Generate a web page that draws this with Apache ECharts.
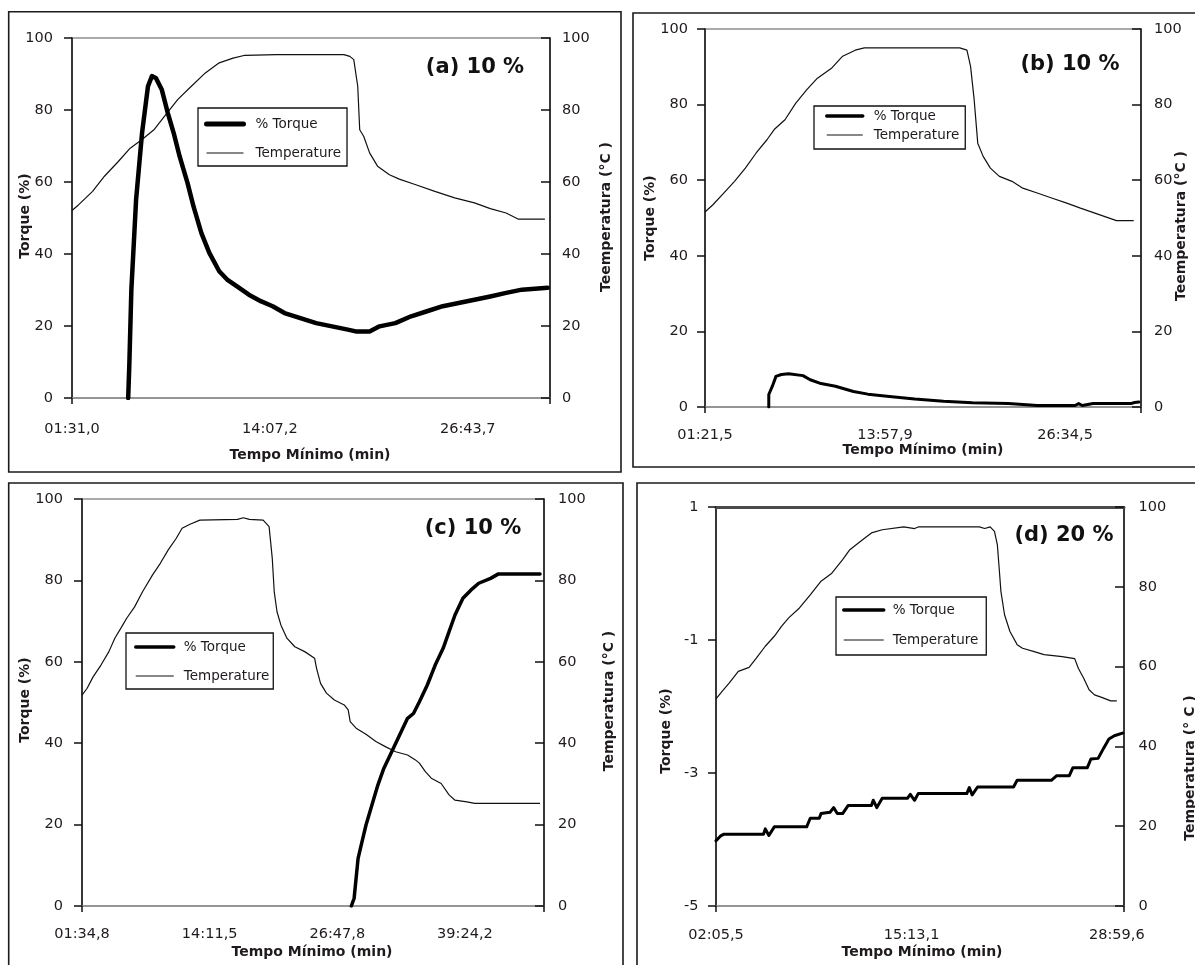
<!DOCTYPE html>
<html>
<head>
<meta charset="utf-8">
<title>Torque e temperatura</title>
<script src="https://cdn.jsdelivr.net/npm/echarts@6/dist/echarts.min.js"></script>
<style>
  html, body { margin: 0; padding: 0; background: #fff; }
  #chart { width: 1195px; height: 965px; }
</style>
</head>
<body>
<div id="chart"></div>
<script>
// Time-axis tick labels (mm:ss,d) for each panel
const ticksA = ['01:31,0', '14:07,2', '26:43,7'];
const ticksB = ['01:21,5', '13:57,9', '26:34,5'];
const ticksC = ['01:34,8', '14:11,5', '26:47,8', '39:24,2'];
const ticksD = ['02:05,5', '15:13,1', '28:59,6'];

// Left-axis ticks of panel (d)
const torqueTicksD = [-5, -3, -1, 1];

// Series: [elapsed seconds, value]
const torqueA = [[305.8,0],[310.3,9.7],[317.9,30.1],[336.0,55.1],[358.7,73.6],[381.4,86.6],[396.5,89.4],[411.7,88.9],[434.4,85.6],[457.0,79.2],[479.7,73.6],[502.4,67.1],[532.7,59.7],[555.4,53.2],[585.6,45.8],[615.9,40.3],[653.7,35.2],[683.9,32.9],[721.7,31.0],[767.1,28.7],[812.5,26.9],[857.9,25.5],[903.3,23.6],[963.8,22.2],[1024.3,20.8],[1084.8,19.9],[1145.3,19.0],[1175.5,18.5],[1228.5,18.5],[1266.3,19.9],[1326.8,20.8],[1387.3,22.7],[1447.8,24.1],[1508.3,25.5],[1568.8,26.4],[1629.3,27.3],[1689.8,28.2],[1750.3,29.2],[1810.8,30.1],[1909.2,30.6]];
const tempA = [[91.0,52.1],[116.7,53.7],[169.7,57.4],[215.0,61.6],[268.0,65.7],[313.4,69.4],[358.7,71.8],[404.1,74.5],[449.5,78.7],[494.9,82.9],[540.2,86.1],[600.7,90.3],[653.7,93.1],[706.6,94.4],[752.0,95.2],[873.0,95.4],[1130.2,95.4],[1152.9,94.9],[1168.0,94.0],[1183.1,86.6],[1190.7,74.5],[1205.8,72.7],[1228.5,68.1],[1258.8,64.4],[1304.2,62.0],[1341.9,60.8],[1402.4,59.3],[1478.0,57.4],[1553.7,55.6],[1629.3,54.2],[1689.8,52.6],[1750.3,51.4],[1795.7,49.7],[1898.5,49.7]];

const torqueB = [[349.5,0],[349.5,3.3],[364.6,5.5],[379.7,8.1],[402.5,8.6],[432.8,8.8],[493.3,8.3],[523.6,7.2],[569.0,6.2],[629.6,5.5],[705.3,4.1],[765.9,3.4],[856.7,2.8],[962.7,2.1],[1083.8,1.5],[1204.9,1.1],[1356.3,0.9],[1477.5,0.4],[1636.5,0.4],[1651.6,0.9],[1666.7,0.4],[1712.2,0.9],[1871.1,0.9],[1886.3,1.2],[1904.5,1.3]];
const tempB = [[81.5,51.6],[114.8,53.5],[160.2,56.6],[205.6,59.7],[251.0,63.2],[296.5,67.2],[341.9,70.7],[372.2,73.4],[417.6,76.0],[463.0,80.4],[508.5,83.9],[553.9,87.0],[614.5,89.7],[659.9,92.8],[712.9,94.4],[750.7,95.0],[826.4,95.0],[1152.0,95.0],[1182.2,94.4],[1197.4,90.1],[1212.5,81.3],[1227.6,69.8],[1250.4,66.3],[1280.7,63.2],[1318.5,61.0],[1371.5,59.7],[1416.9,57.9],[1477.5,56.6],[1538.1,55.3],[1598.6,54.0],[1659.2,52.6],[1719.7,51.3],[1765.1,50.3],[1810.5,49.3],[1883.0,49.3]];

const torqueC = [[1691.1,0],[1707.5,1.9],[1731.0,11.7],[1754.4,15.8],[1777.9,19.9],[1813.0,24.8],[1848.2,29.7],[1883.4,33.8],[1930.3,37.9],[1977.2,42.0],[2024.0,46.1],[2059.2,47.3],[2094.4,50.2],[2141.2,54.3],[2188.1,59.2],[2235.0,63.3],[2270.2,67.4],[2305.3,71.5],[2352.2,75.6],[2399.1,77.6],[2446.0,79.3],[2516.3,80.5],[2563.2,81.6],[2809.3,81.6]];
const tempC = [[94.8,51.8],[125.3,53.5],[160.4,56.3],[207.3,59.2],[254.2,62.5],[289.3,65.8],[324.5,68.2],[359.7,70.7],[406.6,73.5],[453.5,77.2],[512.1,81.3],[559.0,84.2],[605.8,87.5],[652.7,90.3],[687.9,92.8],[734.8,93.8],[793.4,94.8],[1016.1,95.0],[1051.2,95.4],[1086.4,95.0],[1168.4,94.8],[1203.6,93.2],[1222.4,85.4],[1234.1,77.2],[1250.5,72.3],[1273.9,69.0],[1309.1,65.8],[1356.0,63.7],[1414.6,62.5],[1473.2,60.9],[1484.9,58.4],[1508.4,54.7],[1543.5,52.3],[1590.4,50.6],[1649.0,49.4],[1672.4,48.2],[1684.2,45.3],[1719.3,43.7],[1777.9,42.2],[1836.5,40.4],[1895.1,39.1],[1953.7,37.9],[2024.0,37.1],[2070.9,35.9],[2094.4,35.1],[2129.5,33.0],[2164.7,31.4],[2223.3,30.1],[2270.2,27.3],[2305.3,26.0],[2375.7,25.6],[2422.5,25.2],[2809.3,25.2]];

const torqueD = [[125.5,-4.02],[142.9,-3.95],[157.4,-3.92],[316.8,-3.92],[324.0,-3.84],[338.5,-3.94],[360.2,-3.81],[490.6,-3.81],[505.1,-3.68],[541.3,-3.68],[548.6,-3.61],[584.8,-3.59],[599.3,-3.52],[613.8,-3.61],[635.5,-3.61],[657.3,-3.49],[751.4,-3.49],[758.7,-3.41],[773.2,-3.52],[794.9,-3.38],[896.3,-3.38],[907.9,-3.32],[925.3,-3.41],[939.8,-3.31],[1135.4,-3.31],[1145.6,-3.22],[1157.2,-3.33],[1178.9,-3.21],[1323.8,-3.21],[1338.3,-3.11],[1475.9,-3.11],[1497.7,-3.04],[1548.4,-3.04],[1562.9,-2.92],[1620.9,-2.92],[1635.4,-2.79],[1664.4,-2.78],[1686.1,-2.63],[1707.8,-2.49],[1729.6,-2.44],[1762.9,-2.40]];
const tempD = [[125.5,51.9],[150.1,53.8],[179.1,55.9],[215.3,58.8],[258.8,59.8],[287.8,62.1],[324.0,65.1],[360.2,67.6],[389.2,70.1],[418.2,72.2],[461.6,74.7],[505.1,78.0],[548.6,81.4],[592.0,83.4],[635.5,86.8],[664.5,89.3],[707.9,91.4],[751.4,93.5],[794.9,94.3],[881.8,95.0],[925.3,94.6],[939.8,95.0],[1186.1,95.0],[1207.8,94.6],[1229.6,95.0],[1246.9,93.9],[1258.5,90.6],[1265.8,84.7],[1273.0,78.8],[1287.5,73.0],[1309.3,68.8],[1338.3,65.5],[1360.0,64.6],[1403.5,63.8],[1446.9,63.0],[1519.4,62.5],[1570.1,62.0],[1584.6,59.6],[1606.3,57.1],[1628.1,54.2],[1649.8,52.9],[1678.8,52.3],[1715.0,51.4],[1739.6,51.4]];

// "mm:ss,d" <-> seconds
function toSec(s) {
  const parts = s.split(':');
  return parseInt(parts[0], 10) * 60 + parseFloat(parts[1].replace(',', '.'));
}
function fmtTime(v) {
  const m = Math.floor(v / 60 + 1e-9);
  const s = v - m * 60;
  let st = s.toFixed(1).replace('.', ',');
  if (s < 9.95) st = '0' + st;
  return String(m).padStart(2, '0') + ':' + st;
}

const FONT = 'DejaVu Sans';
const INK = '#1e1a1e';

const panels = [
  { tag: '(a) 10 %', ticks: ticksA, xMax: 1918, torque: torqueA, temp: tempA,
    grid: { left: 72, top: 38, width: 478, height: 360 }, torqueWidth: 4.5,
    leftY: { min: 0, max: 100, interval: 20 }, labelMarginX: 24, leftMargin: 19, rightMargin: 12,
    legend: { left: 198, top: 108, padding: [9, 6, 6, 6], itemWidth: 37, itemGap: 15, textPad: 7, iconWidth: 5 } },
  { tag: '(b) 10 %', ticks: ticksB, xMax: 1913.6, torque: torqueB, temp: tempB,
    grid: { left: 705, top: 29, width: 436, height: 378 }, torqueWidth: 3,
    leftY: { min: 0, max: 100, interval: 20 }, labelMarginX: 21, leftMargin: 17, rightMargin: 13,
    legend: { left: 814, top: 106, padding: [3, 6, 7, 11], itemWidth: 36, itemGap: 5, textPad: 6, iconWidth: 3.5 } },
  { tag: '(c) 10 %', ticks: ticksC, xMax: 2832.8, torque: torqueC, temp: tempC,
    grid: { left: 82, top: 499, width: 462, height: 407 }, torqueWidth: 3.5,
    leftY: { min: 0, max: 100, interval: 20 }, labelMarginX: 21, leftMargin: 19, rightMargin: 14,
    legend: { left: 126, top: 633, padding: [7, 4, 6, 8], itemWidth: 38, itemGap: 15, textPad: 5, iconWidth: 3.5 } },
  { tag: '(d) 20 %', ticks: ticksD, xMax: 1768.6, torque: torqueD, temp: tempD,
    grid: { left: 716, top: 507, width: 408, height: 399 }, torqueWidth: 3,
    leftY: { min: -5, max: 1, custom: torqueTicksD }, labelMarginX: 22, leftMargin: 17.5, rightMargin: 14.5,
    legend: { left: 836, top: 597, padding: [6, 8, 8, 6], itemWidth: 40, itemGap: 16, textPad: 4, iconWidth: 3.5 } }
];

// Axis titles and panel tags, placed per panel
const titles = [
  { xName: [310, 455], yName: [25, 216], tName: [606, 217], tText: 'Teemperatura (°C )', tag: [475, 68] },
  { xName: [923, 450], yName: [650, 218], tName: [1181, 226], tText: 'Teemperatura (°C )', tag: [1070, 65] },
  { xName: [312, 952], yName: [25, 700], tName: [609, 701], tText: 'Temperatura (°C )', tag: [473, 529] },
  { xName: [922, 952], yName: [666, 731], tName: [1190, 768], tText: 'Temperatura (° C )', tag: [1064, 536] }
];

const frames = [
  [8.7, 11.7, 612.3, 460.3],
  [633, 13, 620, 454],
  [8.7, 483, 614.3, 600],
  [637, 483, 620, 600]
];

const labelStyle = { fontFamily: FONT, fontSize: 14.5, color: INK };

const grid = [], xAxis = [], yAxis = [], series = [], legend = [], graphic = [];

panels.forEach((p, i) => {
  grid.push(Object.assign({ show: true, borderColor: '#8e8e8e', borderWidth: 1.5, backgroundColor: '#fff' }, p.grid));

  const xMin = toSec(p.ticks[0]);
  xAxis.push({
    gridIndex: i, type: 'value', min: xMin, max: p.xMax, position: 'bottom',
    axisLine: { show: true, onZero: false, lineStyle: { color: '#8e8e8e', width: 1.5 } },
    axisTick: { show: true, inside: false, length: 6, customValues: [xMin, p.xMax], lineStyle: { color: '#111', width: 1.5 } },
    axisLabel: Object.assign({ show: true, margin: p.labelMarginX, customValues: p.ticks.map(toSec), formatter: fmtTime }, labelStyle),
    splitLine: { show: false }
  });

  const ly = {
    gridIndex: i, type: 'value', position: 'left', min: p.leftY.min, max: p.leftY.max,
    axisLine: { show: true, onZero: false, lineStyle: { color: '#111', width: 1.5 } },
    axisTick: { show: true, inside: false, length: 8, lineStyle: { color: '#111', width: 1.5 } },
    axisLabel: Object.assign({ show: true, margin: p.leftMargin }, labelStyle),
    splitLine: { show: false }
  };
  if (p.leftY.custom) {
    ly.axisLabel.customValues = p.leftY.custom;
    ly.axisTick.customValues = p.leftY.custom;
  } else {
    ly.interval = p.leftY.interval;
  }
  yAxis.push(ly);
  yAxis.push({
    gridIndex: i, type: 'value', position: 'right', min: 0, max: 100, interval: 20,
    axisLine: { show: true, onZero: false, lineStyle: { color: '#111', width: 1.5 } },
    axisTick: { show: true, inside: true, length: 9, lineStyle: { color: '#111', width: 1.5 } },
    axisLabel: Object.assign({ show: true, margin: p.rightMargin }, labelStyle),
    splitLine: { show: false }
  });

  series.push({
    name: '% Torque', type: 'line', xAxisIndex: i, yAxisIndex: 2 * i,
    data: p.torque, symbol: 'none', silent: true, animation: false,
    lineStyle: { color: '#000', width: p.torqueWidth, join: 'round', cap: 'round' }, itemStyle: { color: '#000' }, z: 3
  });
  series.push({
    name: 'Temperature', type: 'line', xAxisIndex: i, yAxisIndex: 2 * i + 1,
    data: p.temp, symbol: 'none', silent: true, animation: false,
    lineStyle: { color: '#111', width: 1.2 }, itemStyle: { color: '#111' }, z: 2
  });

  // legend keys are plain line samples (no marker)
  const lg = p.legend;
  legend.push({
    orient: 'vertical', left: lg.left, top: lg.top, padding: lg.padding,
    itemWidth: lg.itemWidth, itemHeight: 14, itemGap: lg.itemGap,
    borderColor: '#111', borderWidth: 1.3, backgroundColor: '#fff', borderRadius: 0,
    selectedMode: false,
    textStyle: { fontFamily: FONT, fontSize: 13.5, color: INK, lineHeight: 14, padding: [0, 0, 0, lg.textPad] },
    data: [
      { name: '% Torque', lineStyle: { width: lg.iconWidth, color: '#000' }, itemStyle: { opacity: 0 } },
      { name: 'Temperature', lineStyle: { width: 1.2, color: '#111' }, itemStyle: { opacity: 0 } }
    ]
  });

  const f = frames[i];
  graphic.push({ type: 'rect', silent: true, z: -10,
    shape: { x: f[0], y: f[1], width: f[2], height: f[3] },
    style: { fill: 'none', stroke: '#1b1b1b', lineWidth: 1.6 } });

  const t = titles[i];
  graphic.push({ type: 'text', silent: true, x: t.tag[0], y: t.tag[1],
    style: { text: p.tag, font: 'bold 21px "' + FONT + '"', fill: '#111', align: 'center', verticalAlign: 'middle' } });
  graphic.push({ type: 'text', silent: true, x: t.xName[0], y: t.xName[1],
    style: { text: 'Tempo Mínimo (min)', font: 'bold 14px "' + FONT + '"', fill: INK, align: 'center', verticalAlign: 'middle' } });
  graphic.push({ type: 'text', silent: true, x: t.yName[0], y: t.yName[1], rotation: Math.PI / 2,
    style: { text: 'Torque (%)', font: 'bold 14px "' + FONT + '"', fill: INK, align: 'center', verticalAlign: 'middle' } });
  graphic.push({ type: 'text', silent: true, x: t.tName[0], y: t.tName[1], rotation: Math.PI / 2,
    style: { text: t.tText, font: 'bold 14px "' + FONT + '"', fill: INK, align: 'center', verticalAlign: 'middle' } });
});

// darker upper border on panel (d)
xAxis.push({
  gridIndex: 3, type: 'value', position: 'top', min: toSec(ticksD[0]), max: 1768.6,
  axisLine: { show: true, onZero: false, lineStyle: { color: '#4a4a4a', width: 3 } },
  axisTick: { show: false }, axisLabel: { show: false }, splitLine: { show: false }
});

const chart = echarts.init(document.getElementById('chart'), null, { renderer: 'canvas' });
chart.setOption({
  animation: false,
  backgroundColor: '#fff',
  grid, xAxis, yAxis, series, legend, graphic
});
</script>
</body>
</html>
